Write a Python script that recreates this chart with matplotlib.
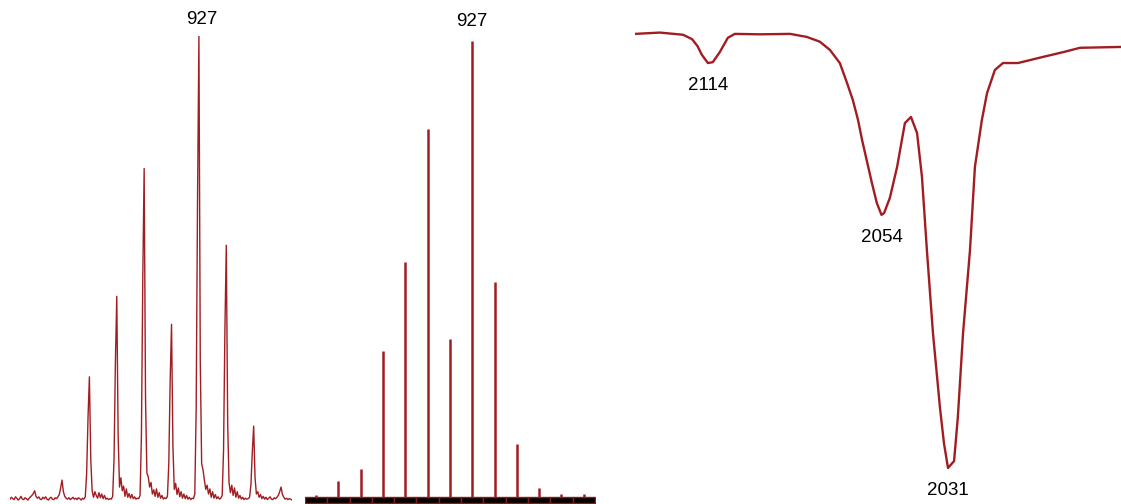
import numpy as np
import matplotlib.pyplot as plt

plt.rcParams['font.family'] = ['Liberation Sans', 'DejaVu Sans']

red = '#a11d22'

# experimental MS trace, m/z grid 920.10 .. 930.40 in 0.05 steps
exp_mz = np.round(np.arange(920.10, 930.41, 0.05), 2)
exp_int = [
    0.4, 0.8, 0.5, 0.3, 0.9, 0.6, 0.2, 0.5, 1.0, 0.4, 0.3, 0.7, 0.5, 0.2, 0.6, 0.9, 1.2, 1.6, 2.2, 1.0,
    0.6, 0.9, 0.4, 0.3, 0.8, 0.5, 0.9, 0.4, 0.2, 0.6, 0.8, 0.4, 0.3, 0.7, 0.5, 0.9, 1.4, 2.8, 4.5, 2.0,
    1.0, 0.6, 0.4, 0.7, 0.3, 0.5, 0.8, 0.4, 0.6, 0.3, 0.7, 0.5, 0.2, 0.6, 0.4, 0.9, 6.0, 18.0, 26.7, 9.0,
    2.2, 0.8, 2.0, 1.2, 0.6, 1.8, 0.7, 1.5, 0.5, 1.2, 0.4, 0.6, 0.3, 0.5, 0.4, 1.0, 9.0, 30.0, 44.0, 14.0,
    3.0, 5.0, 2.2, 3.2, 1.0, 2.6, 0.8, 1.6, 0.6, 1.4, 0.5, 0.9, 0.4, 0.6, 0.5, 1.2, 14.0, 48.0, 71.5, 22.0,
    6.0, 5.2, 3.0, 4.0, 1.5, 2.4, 1.0, 2.6, 0.8, 1.8, 0.6, 1.2, 0.4, 0.7, 0.5, 1.0, 8.0, 26.0, 38.0, 12.0,
    2.5, 3.8, 1.4, 2.8, 0.9, 2.0, 0.6, 1.5, 0.5, 1.2, 0.4, 0.8, 0.3, 0.6, 0.5, 1.5, 20.0, 65.0, 100.0, 30.0,
    8.0, 6.7, 4.5, 2.5, 3.4, 1.5, 2.6, 0.8, 2.0, 0.6, 1.4, 0.5, 0.9, 0.4, 0.6, 1.2, 11.0, 37.0, 55.0, 17.0,
    4.0, 1.8, 3.4, 1.2, 2.8, 0.8, 2.0, 0.6, 1.2, 0.4, 0.8, 0.3, 0.6, 0.4, 0.5, 0.8, 3.5, 10.5, 16.1, 5.0,
    1.5, 2.0, 0.8, 1.4, 0.5, 1.0, 0.4, 0.8, 0.3, 0.6, 0.9, 0.4, 0.3, 0.7, 0.5, 0.8, 1.2, 2.0, 3.0, 1.4,
    0.8, 0.4, 0.6, 0.3, 0.5, 0.4, 0.2,
]

# simulated isotope pattern
sim_mz = [920, 921, 922, 923, 924, 925, 926, 927, 928, 929, 930, 931, 932]
sim_int = [0.4, 3.5, 6.1, 32.0, 51.5, 80.7, 34.6, 100.0, 47.1, 11.6, 2.0, 0.7, 0.7]

# IR, carbonyl region
ir_wn = [2139.2, 2130.6, 2122.6, 2119.5, 2117.6, 2116.1, 2114.0, 2112.3, 2109.9, 2107.1, 2104.7,
         2096.0, 2085.6, 2079.8, 2075.3, 2071.8, 2068.4, 2066.0, 2063.9, 2062.1, 2060.7,
         2057.3, 2055.6, 2054.0, 2053.1, 2051.1, 2048.6, 2045.9, 2043.8, 2041.7, 2040.0,
         2038.3, 2036.2, 2033.8, 2032.4, 2031.0, 2028.9, 2027.6, 2025.8, 2023.4, 2021.7,
         2019.3, 2017.5, 2014.8, 2012.0, 2006.8, 1998.2, 1991.2, 1985.4, 1971.2]
ir_T = [99.8, 100.1, 99.6, 98.6, 97.0, 95.0, 93.1, 93.3, 95.6, 98.9, 99.8,
        99.7, 99.8, 99.1, 98.0, 96.1, 93.1, 88.7, 84.6, 80.0, 75.4,
        65.5, 60.9, 58.2, 58.6, 62.1, 69.2, 79.3, 80.7, 77.0, 66.9,
        50.1, 31.0, 14.0, 5.7, 0.0, 1.6, 11.7, 31.0, 50.1, 69.2,
        80.0, 86.2, 91.5, 93.1, 93.1, 94.5, 95.6, 96.6, 96.8]
ir_bands = [2114, 2054, 2031]

W, H = 1121, 504
fig = plt.figure(figsize=(W / 100, H / 100), dpi=100)


def px_axes(x0, x1, y0, y1):
    # pixel box (y measured from the top) -> axes
    return fig.add_axes([x0 / W, 1 - y1 / H, (x1 - x0) / W, (y1 - y0) / H])


# experimental
ax1 = px_axes(10, 292, 36, 501)
ax1.plot(exp_mz, exp_int, color=red, lw=1.0)
ax1.set_xlim(920.10, 930.40)
ax1.set_ylim(0, 100)
top = int(np.argmax(exp_int))
ax1.annotate('927', (exp_mz[top], exp_int[top]), xytext=(2, 6), textcoords='offset points',
             ha='center', va='bottom', fontsize=13.5)
ax1.axis('off')

# simulated
ax2 = px_axes(305, 596, 0, 504)
ax2.set_xlim(919.5, 932.55)
ax2.set_ylim(-1.54, 109)
ax2.vlines(sim_mz, 0, sim_int, color=red, lw=1.8)
ax2.bar(sim_mz, -1.2, width=1, bottom=-0.1, color='black', edgecolor='#8b1a1a', lw=1.0)
i = int(np.argmax(sim_int))
ax2.annotate('927', (sim_mz[i], sim_int[i]), xytext=(0, 8), textcoords='offset points',
             ha='center', va='bottom', fontsize=13.5)
ax2.axis('off')

# IR
ax3 = px_axes(635, 1121, 0, 504)
ax3.plot(ir_wn, ir_T, color=red, lw=1.7)
ax3.set_xlim(2139.2, 1971.2)
ax3.set_ylim(-8.28, 107.59)
for b in ir_bands:
    ax3.annotate(str(b), (b, np.interp(b, ir_wn[::-1], ir_T[::-1])), xytext=(0, -10),
                 textcoords='offset points', ha='center', va='top', fontsize=13.5)
ax3.axis('off')

fig.savefig('out.png', dpi=100)
